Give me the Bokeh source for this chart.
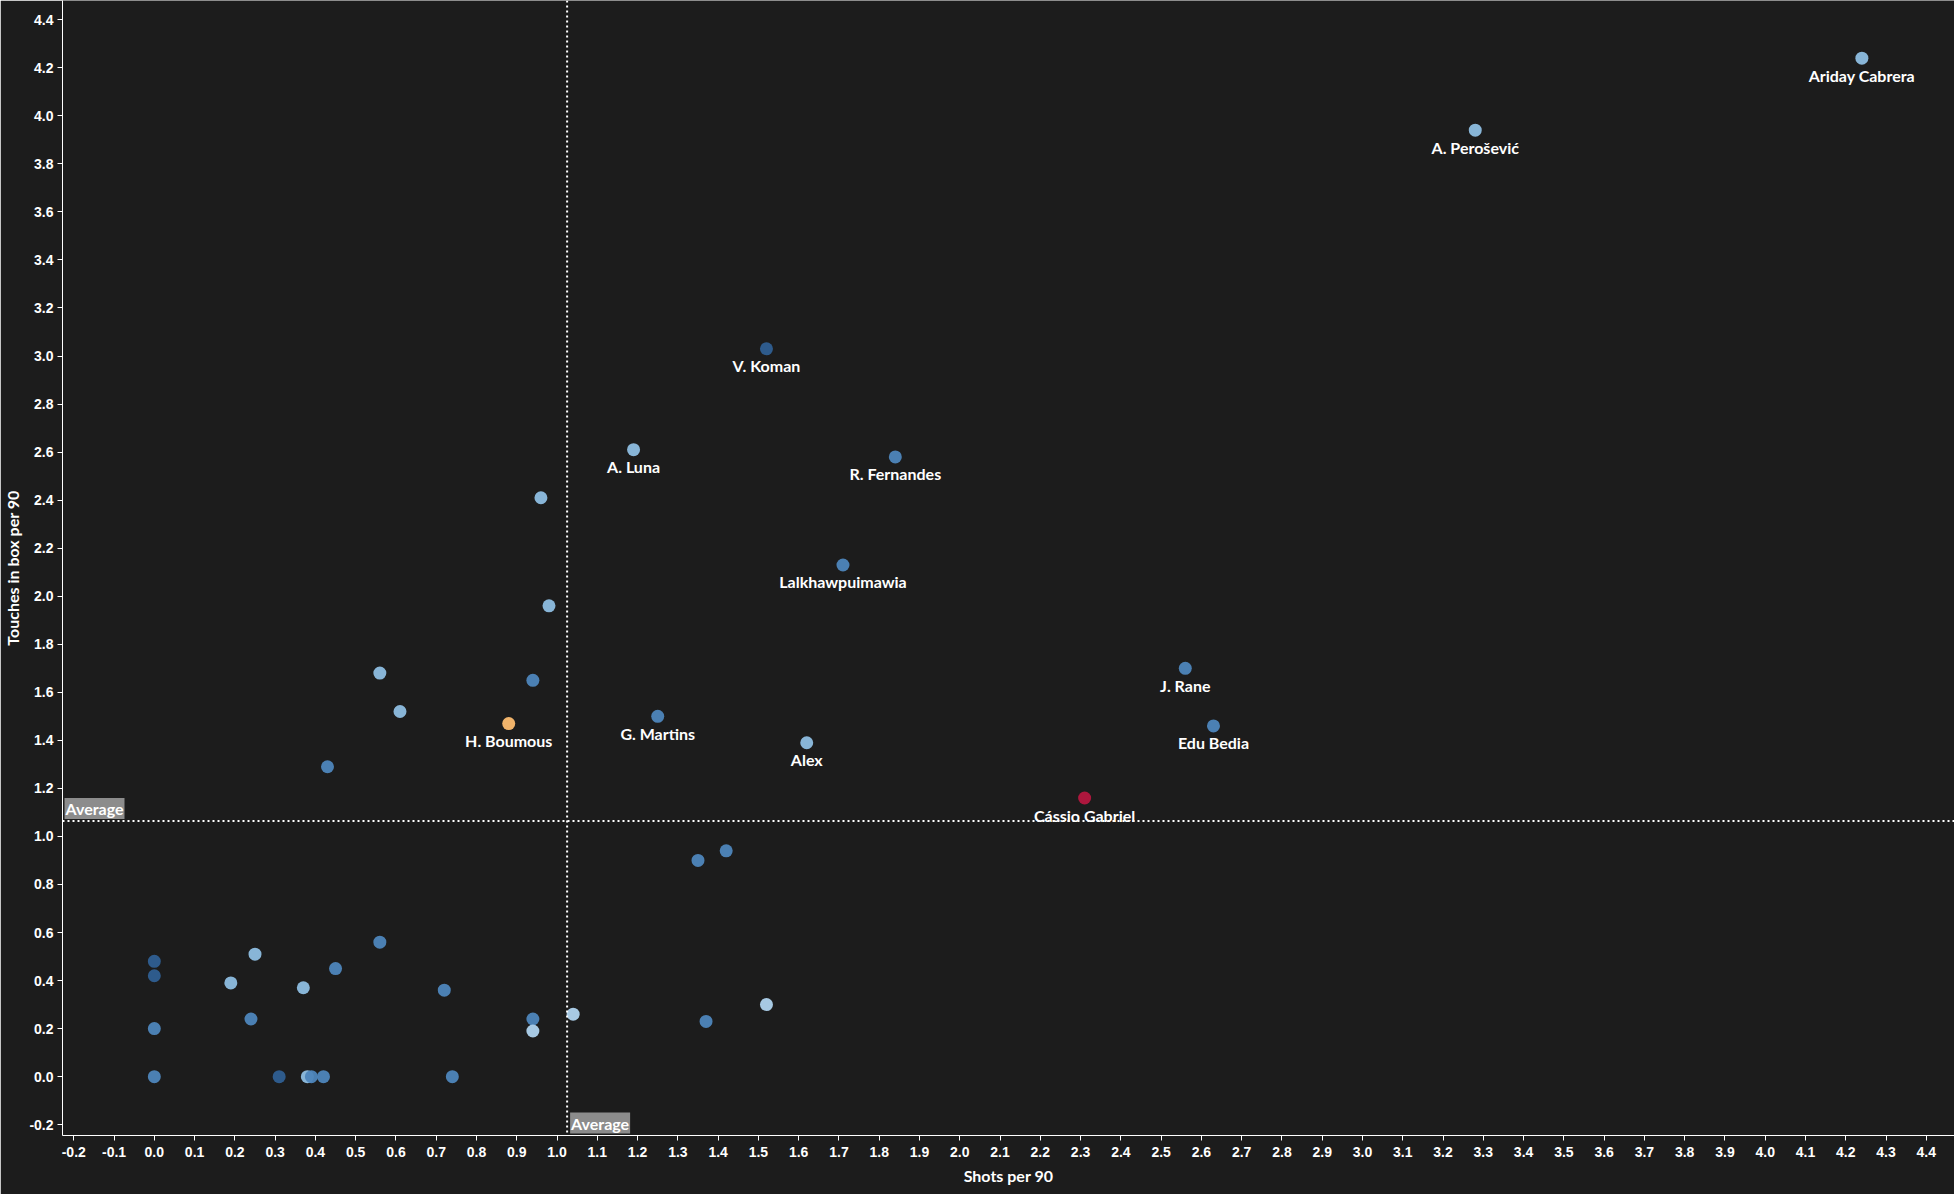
from bokeh.plotting import figure
from bokeh.models import ColumnDataSource, Span, Label, SingleIntervalTicker, PrintfTickFormatter, Range1d
from bokeh.core.properties import value
from bokeh.embed import file_html
from bokeh.resources import INLINE

# ---- data ----
names = ["Ariday Cabrera", "A. Perošević", "V. Koman", "A. Luna", "R. Fernandes",
         "Lalkhawpuimawia", "J. Rane", "Edu Bedia", "G. Martins", "Alex",
         "H. Boumous", "Cássio Gabriel",
         "", "", "", "", "", "", "", "", "", "", "", "", "", "", "", "", "", "",
         "", "", "", "", "", "", "", "", "", "", ""]
shots = [4.24, 3.28, 1.52, 1.19, 1.84,
         1.71, 2.56, 2.63, 1.25, 1.62,
         0.88, 2.31,
         0.96, 0.98, 0.56, 0.94, 0.61, 0.43, 1.35, 1.42, 1.52, 1.37, 1.04, 0.94, 0.94,
         0.74, 0.72, 0.56, 0.45, 0.37, 0.25, 0.19, 0.24, 0.0, 0.0, 0.0, 0.0,
         0.31, 0.38, 0.39, 0.42]
touches = [4.24, 3.94, 3.03, 2.61, 2.58,
           2.13, 1.70, 1.46, 1.50, 1.39,
           1.47, 1.16,
           2.41, 1.96, 1.68, 1.65, 1.52, 1.29, 0.90, 0.94, 0.30, 0.23, 0.26, 0.24, 0.19,
           0.0, 0.36, 0.56, 0.45, 0.37, 0.51, 0.39, 0.24, 0.48, 0.42, 0.20, 0.0,
           0.0, 0.0, 0.0, 0.0]
groups = ["light", "light", "dark", "light", "mid",
          "mid", "mid", "mid", "mid", "light",
          "focus", "highlight",
          "light", "light", "light", "mid", "light", "mid", "mid", "mid", "vlight", "mid", "vlight", "mid", "vlight",
          "mid", "mid", "mid", "mid", "light", "light", "light", "mid", "dark", "dark", "mid", "mid",
          "dark", "light", "mid", "mid"]
avg_shots = 1.025
avg_touches = 1.064

palette = {"vlight": "#afd3ee", "light": "#8ebee2", "mid": "#4e86bc",
           "dark": "#2f5f92", "focus": "#fdbd70", "highlight": "#b5173f"}
colors = [palette[g] for g in groups]

src = ColumnDataSource(dict(x=shots, y=touches, name=names, color=colors))

BG = "#1c1c1c"
p = figure(width=1954, height=1194, output_backend="svg", toolbar_location=None,
           x_range=Range1d(-0.228, 4.47), y_range=Range1d(-0.245, 4.48),
           background_fill_color=BG, border_fill_color=BG,
           min_border_left=62, min_border_right=0, min_border_top=0, min_border_bottom=59)
p.outline_line_color = None
p.grid.visible = False

for ax in (p.xaxis[0], p.yaxis[0]):
    ax.axis_line_color = "white"
    ax.major_tick_line_color = "white"
    ax.minor_tick_line_color = None
    ax.major_tick_in = 0
    ax.major_tick_out = 5
    ax.major_label_text_color = "white"
    ax.major_label_text_font = "Liberation Sans"
    ax.major_label_text_font_style = "bold"
    ax.major_label_text_font_size = "14px"
    ax.axis_label_text_color = "white"
    ax.axis_label_text_font = "Lato"
    ax.axis_label_text_font_style = "bold"
    ax.axis_label_text_font_size = "16px"
    ax.formatter = PrintfTickFormatter(format="%.1f")

p.xaxis[0].ticker = SingleIntervalTicker(interval=0.1)
p.yaxis[0].ticker = SingleIntervalTicker(interval=0.2)
p.xaxis[0].axis_label = "Shots per 90"
p.yaxis[0].axis_label = "Touches in box per 90"
p.xaxis[0].major_label_standoff = 6
p.yaxis[0].major_label_standoff = 4
p.yaxis[0].axis_label_standoff = 4
p.xaxis[0].axis_label_standoff = 6

p.scatter("x", "y", source=src, size=13, fill_color="color", line_color=None, fill_alpha=0.95)

p.add_layout(Span(location=avg_shots, dimension="height", line_color="white",
                  line_width=2, line_dash="2 3"))
p.add_layout(Span(location=avg_touches, dimension="width", line_color="white",
                  line_width=2, line_dash="2 3"))

p.text("x", "y", text="name", source=src, text_color="white",
       text_font=value("Lato"), text_font_style="bold", text_font_size="16px",
       text_align="center", text_baseline="middle", y_offset=17)

p.add_layout(Label(x=-0.228, y=avg_touches, text="Average", x_offset=2, y_offset=2,
                   text_color="white", text_font="Lato", text_font_style="bold",
                   text_font_size="16px", background_fill_color="#8c8c8c",
                   padding=1))
p.add_layout(Label(x=avg_shots, y=-0.245, text="Average", x_offset=3, y_offset=2,
                   text_color="white", text_font="Lato", text_font_style="bold",
                   text_font_size="16px", background_fill_color="#8c8c8c",
                   padding=1))

open("out.html", "w").write(file_html(p, INLINE))
